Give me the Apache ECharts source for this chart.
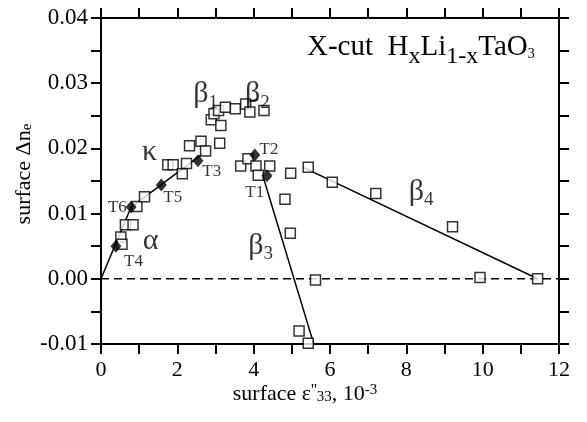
<!DOCTYPE html>
<html><head><meta charset="utf-8">
<script src="https://cdn.jsdelivr.net/npm/echarts@6/dist/echarts.min.js"></script>
<style>html,body{margin:0;padding:0;background:#fff}#c{width:587px;height:422px}</style>
</head><body><div id="c"></div>
<script>
// ---- data ----
const xTickValues = [0, 2, 4, 6, 8, 10, 12];
const yTickValues = [-0.01, 0, 0.01, 0.02, 0.03, 0.04];
const yTickLabels = ['-0.01', '0.00', '0.01', '0.02', '0.03', '0.04'];

const openSquares = [
  [0.52, 0.0064], [0.55, 0.0053], [0.64, 0.0083], [0.84, 0.0083], [0.94, 0.0111],
  [1.14, 0.0126], [1.75, 0.0175], [1.89, 0.0175], [2.13, 0.0161], [2.24, 0.0177],
  [2.32, 0.0204], [2.62, 0.0211], [2.74, 0.0196], [3.11, 0.0208], [2.89, 0.0244],
  [2.96, 0.0253], [3.08, 0.0258], [3.14, 0.0235], [3.26, 0.0263], [3.52, 0.0261],
  [3.79, 0.0268], [3.90, 0.0256], [4.27, 0.0258], [3.66, 0.0173], [3.85, 0.0184],
  [4.06, 0.0173], [4.12, 0.0159], [4.42, 0.0173], [4.97, 0.0162], [4.82, 0.0122],
  [4.96, 0.0070], [5.43, 0.0171], [6.06, 0.0148], [7.20, 0.0131], [9.21, 0.0080],
  [9.93, 0.0002], [11.44, 0.0000], [5.62, -0.0002], [5.19, -0.0080], [5.43, -0.0099]
];

const diamondNames = ['T1', 'T2', 'T3', 'T4', 'T5', 'T6'];
const diamondPoints = [[4.35, 0.0158], [4.03, 0.0190], [2.54, 0.0181], [0.39, 0.0050], [1.58, 0.0144], [0.79, 0.0110]];
const diamondLabelAt = [[4.03, 0.0133], [4.40, 0.0199], [2.90, 0.0164], [0.85, 0.0026], [1.88, 0.0124], [0.43, 0.0110]];

const phaseNames = ['κ', 'α', 'β1', 'β2', 'β3', 'β4'];
const phaseLabelAt = [[1.27, 0.0195], [1.30, 0.0058], [2.74, 0.0281], [4.10, 0.0281], [4.18, 0.0048], [8.39, 0.0131]];

const alphaLine = [[0, 0], [0.79, 0.0110]];
const kappaLine = [[0.79, 0.0110], [2.67, 0.0192]];
const beta2Line = [[3.85, 0.0272], [4.10, 0.0275]];
const beta3Line = [[4.25, 0.0156], [5.57, -0.0099]];
const beta4Line = [[5.30, 0.0171], [11.44, 0.0000]];
const zeroLine = [[0, 0], [12, 0]];

// ---- chart ----
const FONT = 'Liberation Serif';
const chart = echarts.init(document.getElementById('c'), null, { renderer: 'canvas' });

function axisCommon() {
  return {
    axisLine: { show: true, onZero: false, lineStyle: { color: '#000', width: 2 } },
    axisTick: { show: true, inside: false, length: 10, lineStyle: { color: '#000', width: 2 } },
    splitLine: { show: false }
  };
}
function near(a, b) { return Math.abs(a - b) < 1e-9; }

const solid = (data) => ({
  type: 'line', data, showSymbol: false, symbol: 'none', silent: true, z: 2,
  lineStyle: { color: '#000', width: 1.5 }
});

const phaseRich = {
  g: { fontFamily: FONT, fontSize: 30, color: '#000', lineHeight: 30, verticalAlign: 'top' },
  s: { fontFamily: FONT, fontSize: 19, color: '#000', lineHeight: 33, verticalAlign: 'bottom' }
};

const option = {
  backgroundColor: '#fff',
  animation: false,
  grid: { left: 101, right: 28, top: 18, bottom: 78, containLabel: false },
  title: {
    left: 302, top: 28,
    text: '{m|X-cut  H}{s|x}{m|Li}{s|1-x}{m|TaO}{t|3}',
    textStyle: {
      fontFamily: FONT, fontSize: 29, fontWeight: 'normal', color: '#000',
      rich: {
        m: { fontFamily: FONT, fontSize: 29, color: '#000', lineHeight: 30, verticalAlign: 'top' },
        s: { fontFamily: FONT, fontSize: 24, color: '#000', lineHeight: 36, verticalAlign: 'bottom' },
        t: { fontFamily: FONT, fontSize: 14, color: '#000', lineHeight: 14, verticalAlign: 'top', padding: [14, 0, 0, 0] }
      }
    }
  },
  xAxis: [
    Object.assign(axisCommon(), {
      type: 'value', min: 0, max: 12, interval: 1, position: 'bottom',
      axisLabel: {
        margin: 15, color: '#000', fontFamily: FONT, fontSize: 22,
        formatter: v => xTickValues.some(t => near(t, v)) ? String(v) : ''
      },
      name: 'surface ε{p|\'\'}{s|33}, 10{u|-3}',
      nameLocation: 'middle', nameGap: 39, nameMoveOverlap: false,
      nameTextStyle: {
        fontFamily: FONT, fontSize: 22, color: '#000', padding: [0, 50, 0, 0],
        rich: {
          p: { fontFamily: FONT, fontSize: 16, color: '#000', verticalAlign: 'top', lineHeight: 22 },
          s: { fontFamily: FONT, fontSize: 15, color: '#000', verticalAlign: 'bottom', lineHeight: 22 },
          u: { fontFamily: FONT, fontSize: 15, color: '#000', verticalAlign: 'top', lineHeight: 18 }
        }
      }
    }),
    Object.assign(axisCommon(), {
      type: 'value', min: 0, max: 12, interval: 1, position: 'top',
      axisLabel: { show: false }
    })
  ],
  yAxis: [
    Object.assign(axisCommon(), {
      type: 'value', min: -0.01, max: 0.04, interval: 0.005, position: 'left',
      axisLabel: {
        margin: 13, color: '#000', fontFamily: FONT, fontSize: 23,
        formatter: v => {
          const i = yTickValues.findIndex(t => near(t, v));
          return i >= 0 ? yTickLabels[i] : '';
        }
      },
      name: 'surface Δn{s|e}',
      nameLocation: 'middle', nameGap: 66, nameRotate: 90, nameMoveOverlap: false,
      nameTextStyle: {
        fontFamily: FONT, fontSize: 22, color: '#000', padding: [0, 0, 0, 14],
        rich: { s: { fontFamily: FONT, fontSize: 15, color: '#000', verticalAlign: 'bottom', lineHeight: 16 } }
      }
    }),
    Object.assign(axisCommon(), {
      type: 'value', min: -0.01, max: 0.04, interval: 0.005, position: 'right',
      axisLabel: { show: false }
    })
  ],
  series: [
    {
      type: 'line', data: zeroLine, showSymbol: false, symbol: 'none', silent: true, z: 1,
      lineStyle: { color: '#000', width: 1.5, type: [8, 5] }
    },
    solid(alphaLine), solid(kappaLine), solid(beta2Line), solid(beta3Line), solid(beta4Line),
    {
      type: 'scatter', data: openSquares, symbol: 'rect', symbolSize: 10, z: 3,
      itemStyle: { color: '#fff', borderColor: '#000', borderWidth: 1.5 }
    },
    {
      type: 'scatter', symbol: 'diamond', symbolSize: [11, 13], z: 4,
      data: diamondPoints.map((p, i) => ({ name: diamondNames[i], value: p })),
      itemStyle: { color: '#000' }
    },
    {
      type: 'scatter', symbolSize: 0, silent: true, z: 5,
      data: diamondLabelAt.map((p, i) => ({ name: diamondNames[i], value: p })),
      label: { show: true, position: 'inside', formatter: p => p.name, color: '#000', fontFamily: FONT, fontSize: 17 }
    },
    {
      type: 'scatter', symbolSize: 0, silent: true, z: 5,
      data: phaseLabelAt.map((p, i) => ({ name: phaseNames[i], value: p })),
      label: {
        show: true, position: 'inside', color: '#000', fontFamily: FONT,
        formatter: p => p.name.length > 1 ? '{g|' + p.name[0] + '}{s|' + p.name.slice(1) + '}' : '{g|' + p.name + '}',
        rich: phaseRich
      }
    }
  ]
};
chart.setOption(option);
</script>
</body></html>
